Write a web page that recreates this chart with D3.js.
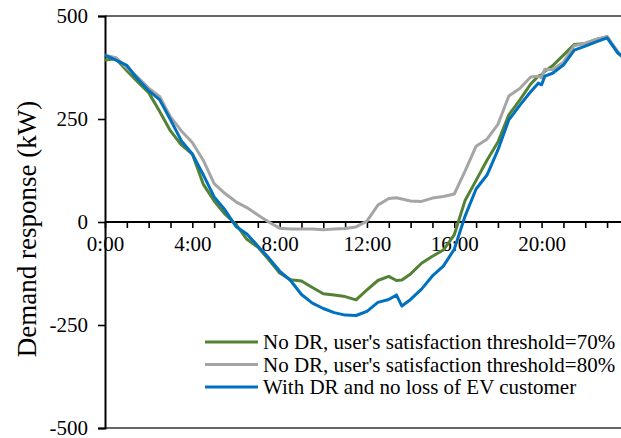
<!DOCTYPE html>
<html><head><meta charset="utf-8">
<script src="https://cdn.jsdelivr.net/npm/d3@7"></script>
</head><body style="margin:0;background:#fff"><svg id="c" width="621" height="438" style="display:block"></svg>
<script>
const hours = [0,0.5,1,1.5,2,2.5,3,3.5,4,4.5,5,5.5,6,6.5,7,7.5,8,8.5,9,9.5,10,10.5,11,11.5,12,12.5,13,13.35,13.6,14,14.5,15,15.5,16,16.5,17,17.5,18,18.5,19,19.5,19.85,20,20.15,20.5,21,21.5,22,22.5,23,23.5,23.75];
const green70 = [393,396,367,340,314,269,221,187,165,92,51,19,-6,-42,-61,-91,-124,-140,-143,-159,-174,-177,-181,-189,-165,-142,-132,-142,-141,-126,-100,-83,-68,-31,53,101,150,194,260,296,335,354,357,366,379,405,431,433,443,450,410,398];
const gray80 = [405,399,374,351,325,305,255,221,193,150,93,69,49,35,17,0,-15,-17,-17,-17,-19,-17,-16,-12,2,41,57,59,56,51,50,58,62,68,124,184,201,237,306,324,352,354,350,371,370,388,428,434,443,450,413,398];
const blueDR = [405,393,380,347,319,297,248,197,165,115,61,29,-11,-29,-58,-87,-119,-142,-176,-197,-210,-220,-226,-227,-217,-195,-188,-177,-204,-188,-163,-131,-107,-66,15,80,114,175,248,283,316,337,333,354,361,381,417,427,437,447,410,400];
const seriesNames = ["No DR, user's satisfaction threshold=70%","No DR, user's satisfaction threshold=80%","With DR and no loss of EV customer"];
const seriesColors = ["#548235","#A5A5A5","#0070C0"];
const yTicks = [500,250,0,-250,-500];
const xTickLabels = [0,4,8,12,16,20];
const yTitle = "Demand response (kW)";

const FONT = '"Liberation Serif", "Times New Roman", Tinos, serif';
const svg = d3.select("#c");
const x = d3.scaleLinear().domain([0,24]).range([105,628.9]);
const y = d3.scaleLinear().domain([-500,500]).range([428,16]);

svg.append("line").attr("x1",105).attr("x2",640).attr("y1",y(500)).attr("y2",y(500)).attr("stroke","#333").attr("stroke-width",1.6);
svg.append("line").attr("x1",105).attr("x2",640).attr("y1",y(-500)).attr("y2",y(-500)).attr("stroke","#333").attr("stroke-width",1.6);

const ya = svg.append("g").attr("transform","translate(105,0)")
  .call(d3.axisLeft(y).tickValues(yTicks).tickSize(7).tickPadding(10).tickFormat(d => String(d)));
ya.attr("font-family",null).attr("font-size",null);
ya.select(".domain").attr("stroke","#000").attr("stroke-width",2);
ya.selectAll(".tick line").attr("stroke","#000").attr("stroke-width",1.6);
ya.selectAll("text").attr("font-family",FONT).attr("font-size",21).attr("fill","#000");

const xa = svg.append("g").attr("transform",`translate(0,${y(0)})`)
  .call(d3.axisBottom(x).tickValues(d3.range(0,24)).tickSize(6).tickSizeOuter(0)
    .tickFormat(d => xTickLabels.includes(d) ? d + ":00" : ""));
xa.attr("font-family",null).attr("font-size",null);
xa.select(".domain").attr("stroke","#000").attr("stroke-width",2).attr("d",`M105,0H640`);
xa.selectAll(".tick line").attr("stroke","#000").attr("stroke-width",1.6);
xa.selectAll("text").attr("font-family",FONT).attr("font-size",21).attr("fill","#000").attr("dy","0.95em").attr("y",9);

const data = [green70, gray80, blueDR];
const line = d3.line().x((d,i)=>x(hours[i])).y(d=>y(d));
data.forEach((s,k)=>{
  svg.append("path").attr("d",line(s)).attr("fill","none").attr("stroke",seriesColors[k])
    .attr("stroke-width",3).attr("stroke-linejoin","round");
});

const ly = [342,364.5,387];
seriesNames.forEach((n,k)=>{
  svg.append("line").attr("x1",205).attr("x2",258).attr("y1",ly[k]).attr("y2",ly[k]).attr("stroke",seriesColors[k]).attr("stroke-width",3);
  svg.append("text").attr("x",263).attr("y",ly[k]).attr("dy","0.35em").attr("font-family",FONT).attr("font-size",21).attr("fill","#000").text(n);
});

svg.append("text").attr("transform","translate(27,229) rotate(-90)").attr("text-anchor","middle").attr("dy","0.35em")
  .attr("font-family",FONT).attr("font-size",27).attr("fill","#000").text(yTitle);
</script></body></html>
